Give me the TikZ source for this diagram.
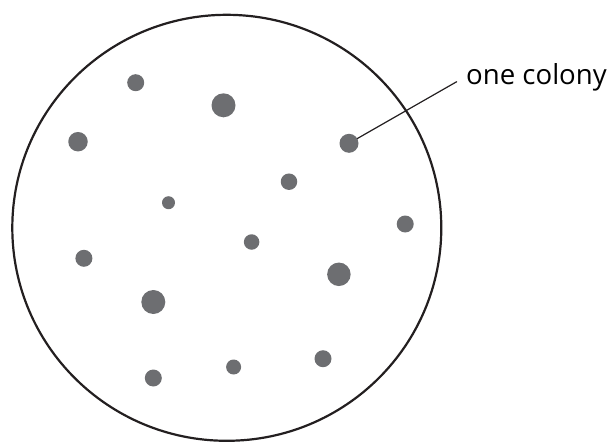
\documentclass[tikz,border=0pt]{standalone}
\usepackage{fontspec}
\setmainfont{Open Sans}
\usetikzlibrary{calc}

\definecolor{dotgray}{HTML}{6D6E71}
\definecolor{rimblack}{HTML}{231F20}

\begin{document}
\begin{tikzpicture}[x=1pt, y=-1pt, line join=round, line cap=round,
    colony/.style={circle, fill=dotgray, inner sep=0pt},
    leader/.style={rimblack, line width=1.2pt}]
        % ---------------------------------------------------
        % page frame in pixel units (y runs downwards)
        % ---------------------------------------------------
        \useasboundingbox (0,0) rectangle (610,442);

        % the dish
        \def\cx{226.8}
        \def\cy{227.8}
        \draw[rimblack, line width=2.2pt] (\cx,\cy) ellipse [x radius=214.5, y radius=213];

        % colonies: x / y / diameter / name
        \foreach \x/\y/\d/\n in {
            135.7/82.7/17/c1, 223.5/105.3/24/c2, 78/141.7/19.5/c3,
            349/143.3/19/c4, 289/181.7/16.5/c5, 168.5/202.7/13/c6,
            405.2/224/17/c7, 251.6/242/15.5/c8, 83.9/258.3/17/c9,
            338.9/274.3/23.5/c10, 153.3/302/24/c11, 323/358.7/17/c12,
            233.6/367/15/c13, 153.3/378/17/c14}
            \node[colony, minimum size=\d pt] (\n) at (\x,\y) {};

        % label with its leader
        \node[anchor=base west, inner sep=0pt, font=\fontsize{27.6}{32}\selectfont]
            (lbl) at (466,84) {one colony};
        \coordinate (tip) at (456.7,81.7);
        \draw[leader] (c4) -- (tip);
\end{tikzpicture}
\end{document}
